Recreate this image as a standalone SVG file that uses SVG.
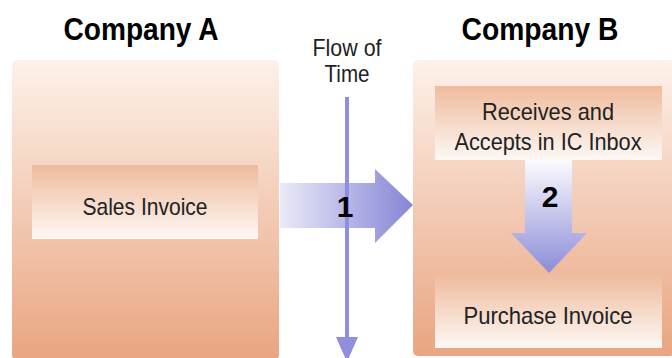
<svg xmlns="http://www.w3.org/2000/svg" width="672" height="358" viewBox="0 0 672 358">
  <defs>
    <linearGradient id="outerFill" x1="0" y1="0" x2="0" y2="1">
      <stop offset="0" stop-color="#fdf1ea"/>
      <stop offset="1" stop-color="#e9a580"/>
    </linearGradient>
    <linearGradient id="innerFill" x1="0" y1="0" x2="0" y2="1">
      <stop offset="0" stop-color="#efbb9c"/>
      <stop offset="1" stop-color="#fdf8f5"/>
    </linearGradient>
    <linearGradient id="arrowRight" x1="0" y1="0" x2="1" y2="0">
      <stop offset="0" stop-color="#eaeaf8"/>
      <stop offset="1" stop-color="#8585d6"/>
    </linearGradient>
    <linearGradient id="arrowDown" x1="0" y1="0" x2="0" y2="1">
      <stop offset="0" stop-color="#fbfbfe"/>
      <stop offset="1" stop-color="#8c8cda"/>
    </linearGradient>
    <style>
      .title { font-family: "Liberation Sans", Arial, sans-serif; font-weight: bold; font-size: 31px; fill: #000; text-anchor: middle; }
      .label { font-family: "Liberation Sans", Arial, sans-serif; font-size: 24px; fill: #222; text-anchor: middle; }
      .step { font-family: "Liberation Sans", Arial, sans-serif; font-weight: bold; font-size: 30px; fill: #000; text-anchor: middle; }
      .outer { fill: url(#outerFill); }
      .inner { fill: url(#innerFill); }
    </style>
  </defs>

  <rect width="672" height="358" fill="#ffffff"/>

  <!-- Company A -->
  <g id="company-a">
    <text class="title" x="141" y="40" textLength="155" lengthAdjust="spacingAndGlyphs">Company A</text>
    <rect class="outer" x="12" y="60" width="267" height="300" rx="5"/>
  </g>

  <!-- Company B -->
  <g id="company-b">
    <text class="title" x="540" y="40" textLength="157" lengthAdjust="spacingAndGlyphs">Company B</text>
    <rect class="outer" x="413" y="60" width="262" height="296" rx="5"/>
  </g>

  <g id="sales-invoice">
    <rect class="inner" x="32" y="165" width="226" height="74"/>
    <text class="label" x="145" y="215" textLength="125" lengthAdjust="spacingAndGlyphs">Sales Invoice</text>
  </g>

  <g id="ic-inbox">
    <rect class="inner" x="435" y="86" width="227" height="74"/>
    <text class="label" x="548" y="120" textLength="132" lengthAdjust="spacingAndGlyphs">Receives and</text>
    <text class="label" x="548" y="150" textLength="187" lengthAdjust="spacingAndGlyphs">Accepts in IC Inbox</text>
  </g>

  <g id="purchase-invoice">
    <rect class="inner" x="435" y="275" width="227" height="73"/>
    <text class="label" x="548" y="324" textLength="169" lengthAdjust="spacingAndGlyphs">Purchase Invoice</text>
  </g>

  <!-- Time axis label -->
  <g id="flow-of-time">
    <text class="label" x="347" y="56" font-size="22" fill="#111" textLength="69" lengthAdjust="spacingAndGlyphs">Flow of</text>
    <text class="label" x="347" y="82" font-size="22" fill="#111" textLength="45" lengthAdjust="spacingAndGlyphs">Time</text>
  </g>

  <!-- Connectors -->
  <g id="connectors">
    <polygon points="280,183 375,183 375,169 413,205 375,243 375,228 280,228" fill="url(#arrowRight)"/>
    <polygon points="525,160 572,160 572,233 587,233 549,273 511,233 525,233" fill="url(#arrowDown)"/>
    <line x1="347" y1="97" x2="347" y2="340" stroke="#8f8fde" stroke-width="4"/>
    <polygon points="336,337 358,337 347,362" fill="#8f8fde"/>
    <text class="step" x="345" y="217">1</text>
    <text class="step" x="550" y="207">2</text>
  </g>
</svg>
